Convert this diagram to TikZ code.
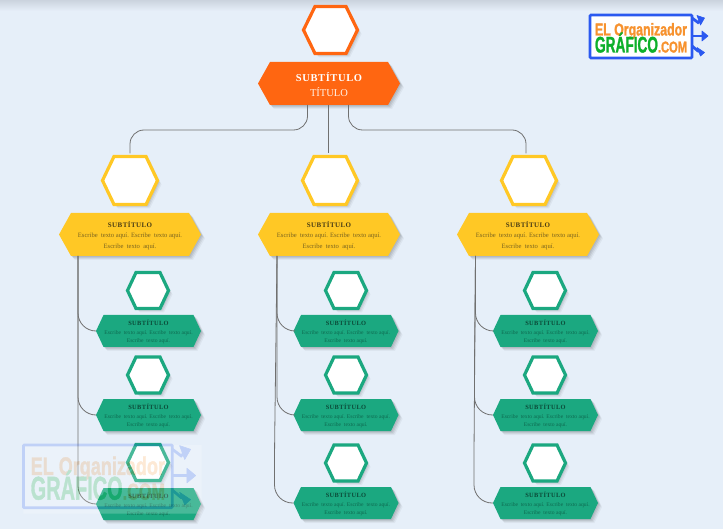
\documentclass[tikz,border=0pt]{standalone}
\usepackage{fontspec}
\setmainfont{Liberation Serif}
\newfontfamily\spacedfont[LetterSpace=6]{Liberation Serif}
\newfontfamily\logofont[FakeBold=1.6]{Liberation Sans}
\usetikzlibrary{calc}
\definecolor{pagebg}{HTML}{E6EFF9}
\definecolor{topband}{HTML}{CBD3DE}
\definecolor{orangeh}{HTML}{FF6611}
\definecolor{yellowh}{HTML}{FFC825}
\definecolor{greenh}{HTML}{1BA880}
\definecolor{conngray}{HTML}{707070}
\definecolor{yelltxt}{HTML}{7A6420}
\definecolor{yellhead}{HTML}{4A3D14}
\definecolor{greentxt}{HTML}{0E6A50}
\definecolor{greenhead}{HTML}{0B4A38}
\definecolor{logoblue}{HTML}{2B59F0}
\definecolor{logoorange}{HTML}{F7922E}
\definecolor{logogreen}{HTML}{0DB02B}
\tikzset{
  x=1pt,y=-1pt,
  orangebox/.style={fill=orangeh},
  yellowbox/.style={fill=yellowh},
  greenbox/.style={fill=greenh},
  orangering/.style={fill=white,draw=orangeh,line width=3.2pt},
  yellowring/.style={fill=white,draw=yellowh,line width=3.2pt},
  greenring/.style={fill=white,draw=greenh,line width=3.2pt},
  conn/.style={draw=conngray,line width=.8pt,rounded corners=18pt},
  hexanchor/.style={inner sep=0pt,outer sep=0pt},
  hexlabel/.style={inner sep=0pt,outer sep=0pt,align=center},
  nofont/.style={},
  titlefont/.style={font=\fontsize{10.5}{15}\selectfont,yshift=-1.5pt},
  yellfont/.style={font=\fontsize{6.6}{10.4}\selectfont,yshift=-1pt},
  greenfont/.style={font=\fontsize{5.6}{8.4}\selectfont,yshift=-1pt},
  logotext/.style={inner sep=0pt,outer sep=0pt,anchor=base west,transform shape},
  logoshaft/.style={draw=logoblue,line width=2.8pt},
  logohead/.style={fill=logoblue,draw=logoblue,line width=.6pt,line join=round},
}
% name, cx, cy, half width, half height, inset, polygon style, label style, text
\newcommand{\hexa}[9]{%
  \foreach \off/\op in {1/.07,2/.07,3/.06,4/.04}{%
    \path[fill=black,opacity=\op]
      (#2-#4+\off,#3+\off) -- (#2-#4+#6+\off,#3-#5+\off) -- (#2+#4-#6+\off,#3-#5+\off)
      -- (#2+#4+\off,#3+\off) -- (#2+#4-#6+\off,#3+#5+\off) -- (#2-#4+#6+\off,#3+#5+\off) -- cycle;}
  \path[#7]
    (#2-#4,#3) -- (#2-#4+#6,#3-#5) -- (#2+#4-#6,#3-#5)
    -- (#2+#4,#3) -- (#2+#4-#6,#3+#5) -- (#2-#4+#6,#3+#5) -- cycle;
  \node[hexanchor,minimum width=2*#4,minimum height=2*#5] (#1) at (#2,#3) {};
  \node[hexlabel,#8] (#1-text) at (#2,#3) {#9};
}
\newcommand{\yelltext}{%
  {\fontsize{7}{10}\selectfont\bfseries\color{yellhead}\spacedfont SUBTÍTULO}\\
  {\color{yelltxt}Escribe\ \ texto aquí. Escribe\ \ texto aquí.}\\
  {\color{yelltxt}Escribe\ \ texto\ \ aquí.}}
\newcommand{\greentext}{%
  {\fontsize{6.4}{8}\selectfont\bfseries\color{greenhead}\spacedfont SUBTÍTULO}\\
  {\color{greentxt}Escribe\ \ texto aquí. Escribe\ \ texto aquí.}\\
  {\color{greentxt}Escribe\ \ texto aquí.}}
\newcommand{\logoart}{%
  \path[fill=white] (590,15) rectangle (692,58);
  \draw[logoshaft] (692,36) -- (703,36);
  \draw[logoshaft] (692,18) -- (698,22.5) -- (701,20);
  \draw[logoshaft] (692,46) -- (698,51) -- (701,51.5);
  \path[logohead] (708,36) -- (702,31) -- (702,41) -- cycle;
  \path[logohead] (704.5,18) -- (697,15.5) -- (700.5,25) -- cycle;
  \path[logohead] (704.5,52.5) -- (697,47.5) -- (700.5,56) -- cycle;
  \path[draw=logoblue,line width=2.8pt,rounded corners=1pt] (590,15) rectangle (692,58);
  \node[logotext] (logoa) at (595,35.5) {\resizebox{92pt}{12.5pt}{\logofont\bfseries\color{logoorange}EL Organizador}};
  \node[logotext] (logob) at (595,52.5) {\resizebox{63pt}{20pt}{\logofont\bfseries\color{logogreen}GRÁFICO}};
  \node[logotext] (logoc) at (658,52.5) {\resizebox{29pt}{11pt}{\logofont\bfseries\color{logoorange}.COM}};
}
\begin{document}
\begin{tikzpicture}
\useasboundingbox (0,0) rectangle (723,529);
\path[fill=pagebg] (0,0) rectangle (723,529);
\shade[top color=topband,bottom color=pagebg] (0,0) rectangle (723,11);

% top
\hexa{th}{330.5}{30}{27}{23.5}{11.5}{orangering}{nofont}{}
\hexa{title}{329}{83.5}{71}{21.5}{12}{orangebox}{titlefont}{%
  {\bfseries\color{white}\spacedfont SUBTÍTULO}\\
  {\color{white!90!orange}TÍTULO}}

% yellow level
\hexa{yh1}{130}{180.5}{27.5}{24}{11.5}{yellowring}{nofont}{}
\hexa{yh2}{330}{180.5}{27.5}{24}{11.5}{yellowring}{nofont}{}
\hexa{yh3}{529}{180.5}{27.5}{24}{11.5}{yellowring}{nofont}{}
\hexa{yb1}{130}{234.5}{71}{21.5}{12}{yellowbox}{yellfont}{\yelltext}
\hexa{yb2}{329}{234.5}{71}{21.5}{12}{yellowbox}{yellfont}{\yelltext}
\hexa{yb3}{528}{234.5}{71}{21.5}{12}{yellowbox}{yellfont}{\yelltext}

% green, column 1
\hexa{gh11}{148}{290.5}{20.5}{18}{8.5}{greenring}{nofont}{}
\hexa{gb11}{148.5}{331}{52.5}{16}{7.5}{greenbox}{greenfont}{\greentext}
\hexa{gh12}{148}{375}{20.5}{18}{8.5}{greenring}{nofont}{}
\hexa{gb12}{148.5}{415}{52.5}{16}{7.5}{greenbox}{greenfont}{\greentext}
\hexa{gh13}{148}{462.5}{20.5}{18}{8.5}{greenring}{nofont}{}
\hexa{gb13}{148.5}{504}{52.5}{16}{7.5}{greenbox}{greenfont}{\greentext}
% green, column 2
\hexa{gh21}{346}{290.5}{20.5}{18}{8.5}{greenring}{nofont}{}
\hexa{gb21}{346}{331}{52.5}{16}{7.5}{greenbox}{greenfont}{\greentext}
\hexa{gh22}{346}{375}{20.5}{18}{8.5}{greenring}{nofont}{}
\hexa{gb22}{346}{415}{52.5}{16}{7.5}{greenbox}{greenfont}{\greentext}
\hexa{gh23}{346}{463}{20.5}{18}{8.5}{greenring}{nofont}{}
\hexa{gb23}{346}{503}{52.5}{16}{7.5}{greenbox}{greenfont}{\greentext}
% green, column 3
\hexa{gh31}{545}{290.5}{20.5}{18}{8.5}{greenring}{nofont}{}
\hexa{gb31}{545.5}{331}{52.5}{16}{7.5}{greenbox}{greenfont}{\greentext}
\hexa{gh32}{545}{375}{20.5}{18}{8.5}{greenring}{nofont}{}
\hexa{gb32}{545.5}{415}{52.5}{16}{7.5}{greenbox}{greenfont}{\greentext}
\hexa{gh33}{545}{463}{20.5}{18}{8.5}{greenring}{nofont}{}
\hexa{gb33}{545.5}{503}{52.5}{16}{7.5}{greenbox}{greenfont}{\greentext}

% connectors
\draw[conn,rounded corners=14pt] ($(title.south)+(-21.5,0)$) -- ($(title.south)+(-21.5,25)$) -- ($(yh1.north)+(0,-26.5)$) -- ($(yh1.north)+(0,-3)$);
\draw[conn] ($(title.south)+(-1,0)$) -- ($(yh2.north)+(-2,-3)$);
\draw[conn,rounded corners=14pt] ($(title.south)+(19.5,0)$) -- ($(title.south)+(19.5,25)$) -- ($(yh3.north)+(-3,-26.5)$) -- ($(yh3.north)+(-3,-3)$);

\draw[conn] ($(yb1.south)+(-52,0)$) |- (gb11.west);
\draw[conn] ($(yb1.south)+(-52,0)$) |- (gb12.west);
\draw[conn] ($(yb1.south)+(-52,0)$) |- (gb13.west);
\draw[conn] ($(yb2.south)+(-52,0)$) |- (gb21.west);
\draw[conn] ($(yb2.south)+(-52,0)$) |- (gb22.west);
\draw[conn] ($(yb2.south)+(-52,0)$) -- ($(gb23.west)+(-19,-50)$) -- ($(gb23.west)+(-19,0)$) -- (gb23.west);
\draw[conn] ($(yb3.south)+(-52.5,0)$) |- (gb31.west);
\draw[conn] ($(yb3.south)+(-52.5,0)$) -- ($(gb32.west)+(-18.5,-50)$) -- ($(gb32.west)+(-18.5,0)$) -- (gb32.west);
\draw[conn] ($(yb3.south)+(-52.5,0)$) -- ($(gb33.west)+(-19,-50)$) -- ($(gb33.west)+(-19,0)$) -- (gb33.west);

% logo
\logoart

% watermark
\begin{scope}[opacity=.2,transparency group,shift={(-838,423)},scale=1.46]
\path[fill=white] (590,15) rectangle (712,62);
\logoart
\end{scope}
\end{tikzpicture}
\end{document}
